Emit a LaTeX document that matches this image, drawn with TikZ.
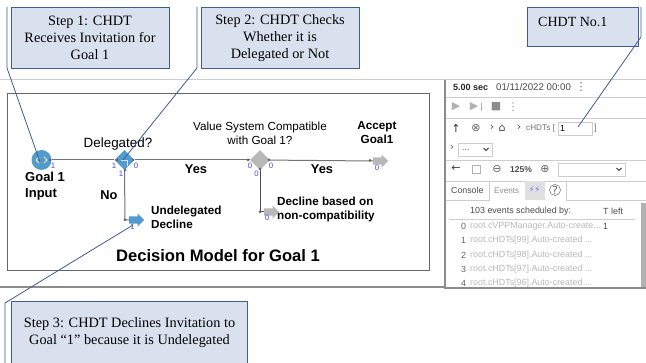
\documentclass[tikz,border=0pt]{standalone}
\usepackage{fontspec}
\setmainfont{Liberation Sans}
\newfontfamily\serifnote{Liberation Serif}
\newfontfamily\iconfont{DejaVu Sans}
\usetikzlibrary{shapes, shapes.arrows, positioning}

\definecolor{notefill}{RGB}{218,225,238}
\definecolor{noteline}{RGB}{62,91,150}
\definecolor{startblue}{RGB}{82,156,205}
\definecolor{portblue}{RGB}{60,80,235}
\definecolor{panelline}{RGB}{205,205,205}
\newcommand{\rowdots}{.{}.{}.}

\begin{document}
\begin{tikzpicture}[x=1pt, y=-1pt, font=\fontsize{10}{12}\selectfont]
  \useasboundingbox (0,0) rectangle (646,363);

  % Set the node styles
  \tikzset{
    notebox/.style={draw=noteline, fill=notefill, line width=1pt, inner sep=0pt, align=center,
      font=\serifnote\fontsize{14.3}{16.8}\selectfont},
    noteline/.style={draw=noteline, line width=0.8pt},
    flowline/.style={draw=black!55, line width=1pt},
    block/.style={diamond, fill=black!28, minimum size=20pt, inner sep=0pt},
    sinkarrow/.style={single arrow, anchor=tail, fill=black!28, inner sep=3.5pt, minimum height=15pt,
      single arrow head extend=3pt},
    modeltext/.style={align=center, font=\fontsize{11.7}{14}\selectfont},
    boldtext/.style={align=left, font=\bfseries\fontsize{11.7}{14}\selectfont},
    yestext/.style={font=\bfseries\fontsize{12.8}{15}\selectfont},
    portnum/.style={text=portblue, font=\fontsize{7.8}{8}\selectfont, inner sep=0pt},
    portdot/.style={circle, fill=black!60, minimum size=3pt, inner sep=0pt},
    paneltext/.style={anchor=west, inner sep=0pt, text=black!70, font=\fontsize{8.9}{10}\selectfont},
    panelicon/.style={inner sep=0pt, text=black!60, font=\iconfont\fontsize{11}{12}\selectfont},
    panelbox/.style={draw=panelline, fill=white, line width=0.5pt},
  }

  % Window edges behind the model
  \draw[panelline, line width=1pt] (0,80) -- (646,80);
  \draw[black!45, line width=1.2pt] (0,287) -- (445,287);
  \draw[black!45, line width=1.2pt] (445,80) -- (445,288) -- (646,288);

  % Draw the model frame
  \draw[black!60, line width=0.9pt, fill=white] (7,93) rectangle (429,270);
  \node[font=\bfseries\fontsize{16.6}{19}\selectfont] (title) at (218,256) {Decision Model for Goal 1};

  % Draw the decision model blocks
  \node[circle, fill=startblue, minimum size=20pt, inner sep=0pt] (goalinput) at (41.5,160) {};
  \node[block, fill=startblue] (delegated) at (124.5,160) {};
  \node[block] (compatible) at (260,160) {};
  \node[sinkarrow] (accept) at (373,161) {};
  \node[sinkarrow] (compatdecline) at (264,212) {};
  \node[sinkarrow, fill=startblue] (undelegated) at (129,220) {};
  \coordinate (declinecorner) at (125,220);
  \coordinate (compatcorner) at (260,212);

  % Connect the blocks
  \draw[flowline] (goalinput) -- (delegated);
  \draw[flowline] (delegated) -- (compatible);
  \draw[flowline] (compatible) -- (accept.tail);
  \draw[flowline] (delegated.south) -- (declinecorner) -- (undelegated.tail);
  \draw[flowline, black!70] (compatible.south) -- (compatcorner) -- (compatdecline.tail);

  % Port dots on the connector ends
  \foreach \i/\px/\py in {a/50/160,b/117/160,c/133/160,d/125/170,e/248/160,f/269/160,
    g/260/169,h/370/160.5,j/260/212,k/125/220}{
    \node[portdot] (dot\i) at (\px,\py) {};
  }

  % Marks inside the blue blocks
  \draw[white, line width=0.8pt] (36,160) -- (39,157) (36,160) -- (39,163);
  \draw[white, line width=0.8pt] (44,157) -- (47,160) -- (44,163);
  \draw[white!75!startblue, line width=0.8pt] (121,160) -- (127,160) -- (127,166);

  % Labels of the model
  \node[boldtext, font=\bfseries\fontsize{13}{15.6}\selectfont, anchor=west, inner sep=0pt] (goallabel) at (25,186) {Goal 1\\Input};
  \node[modeltext, font=\fontsize{13.4}{15}\selectfont] (delegatedlabel) at (118,144) {Delegated?};
  \node[modeltext] (compatiblelabel) at (260,133) {Value System Compatible\\with Goal 1?};
  \node[boldtext, align=center] (acceptlabel) at (377,133) {Accept\\Goal1};
  \node[boldtext, anchor=west, inner sep=0pt] (compatdeclinelabel) at (277,209) {Decline based on\\non-compatibility};
  \node[boldtext, anchor=west, inner sep=0pt] (undelegatedlabel) at (151,217) {Undelegated\\Decline};
  \node[yestext] (yesone) at (196,169) {Yes};
  \node[yestext] (yestwo) at (322,169) {Yes};
  \node[yestext] (nolabel) at (109,195) {No};

  % Port numbers
  \foreach \i/\px/\py/\element in {a/53/166/1,b/114/166/1,c/136/166/0,d/121/174/1,e/250/166/0,
    f/271/166/0,g/256.5/174/0,h/377/168/0,j/267/218/0,k/132.5/227/1}{
    \node[portnum] (port\i) at (\px,\py) {\element};
  }

  % Draw the panel
  \foreach \ly in {97,118,160,181}{
    \draw[panelline, line width=0.6pt] (446,\ly) -- (646,\ly);
  }
  \draw[panelline, line width=0.6pt] (446,200) -- (489,200) -- (489,181)
    (566,181) -- (566,200) -- (646,200);
  \draw[panelline, line width=0.5pt] (449,219) -- (635,219);
  \fill[black!12] (525,181) rectangle (545,200);
  \fill[black!30] (641,203) rectangle (646,287);
  \draw[panelbox] (558,122) rectangle (592,135);
  \draw[panelbox] (458,143) rectangle (492,156);
  \draw[panelbox] (558,163) rectangle (625,176);
  \foreach \cx/\cy in {486/149,619/169}{
    \draw[black!80, line width=0.9pt] (\cx-2.5,\cy-1) -- (\cx,\cy+1.5) -- (\cx+2.5,\cy-1);
  }

  % Panel texts
  \node[paneltext, text=black!85, font=\bfseries\fontsize{9}{10}\selectfont] (simtime) at (453,87) {5.00 sec};
  \node[paneltext, font=\fontsize{9.7}{11}\selectfont] (simdate) at (496,87) {01/11/2022 00:00};
  \node[paneltext, text=black!55, font=\fontsize{8.2}{10}\selectfont] (chdtspath) at (526,128.5) {cHDTs [};
  \node[paneltext, text=black] (chdtsindex) at (560,128.5) {1};
  \node[paneltext, text=black!55] (chdtsend) at (594,128.5) {]};
  \node[paneltext, text=black!60] (dots) at (462,150) {\rowdots};
  \node[paneltext, font=\bfseries\fontsize{8.5}{10}\selectfont] (zoomlevel) at (510,169.5) {125\%};
  \node[paneltext, font=\fontsize{8.8}{10}\selectfont] (consoletab) at (451,190) {Console};
  \node[paneltext, text=black!45, font=\fontsize{8.2}{10}\selectfont] (eventstab) at (494,190.5) {Events};
  \node[paneltext] (eventshead) at (470,211) {103 events scheduled by:};
  \node[paneltext] (tleft) at (603,211) {T left};
  \node[paneltext] (tleftval) at (603,226) {1};

  % Panel icons
  \foreach \i/\px/\py/\glyph/\tone in {a/581/87/⋮/60,b/456/107/▶/30,c/474/107/▶/30,d/496/107/■/45,
    e/513/107/⋮/40,f/456/128/↑/80,g/476/128/⊗/60,h/492/128/›/70,j/502/128/⌂/70,k/519/128/›/70,
    l/452/148/›/60,m/456/169/←/75,n/497/169/⊖/60,o/545/169/⊕/60,q/555/190/?/60}{
    \node[panelicon, text=black!\tone] (icon\i) at (\px,\py) {\glyph};
  }
  \node[panelicon, text=portblue!80, font=\iconfont\fontsize{8}{9}\selectfont] (iconbolts) at (534.5,190) {⚡⚡};
  \draw[black!30, line width=0.9pt] (481,103) -- (481,111);
  \draw[black!30, line width=0.5pt] (472,165) rectangle (480,173);
  \draw[black!60, line width=0.5pt] (555,190) circle (5.5);

  % Panel event rows
  \foreach \i/\ry/\element in {0/226/root.cVPPManager.Auto-create\rowdots,1/240/root.cHDTs[99].Auto-created \rowdots,
    2/255/root.cHDTs[98].Auto-created \rowdots,3/269/root.cHDTs[97].Auto-created \rowdots,4/283/root.cHDTs[96].Auto-created \rowdots}{
    \node[paneltext, text=black!60] (rownum\i) at (461,\ry) {\i};
    \node[paneltext, text=black!28] (rowtext\i) at (470,\ry) {\element};
  }

  % Draw the notes and their leaders
  \node[notebox, minimum width=158pt, minimum height=61pt] (stepone) at (90,38)
    {Step 1: CHDT\\Receives Invitation for\\Goal 1};
  \node[notebox, minimum width=158pt, minimum height=61pt] (steptwo) at (280,38)
    {Step 2: CHDT Checks\\Whether it is\\Delegated or Not};
  \node[notebox, minimum width=111pt, minimum height=39pt, anchor=north west] (chdtno) at (527,7) {};
  \node[anchor=west, inner sep=0pt, font=\serifnote\fontsize{14}{16}\selectfont] (chdtnotext) at (538,22) {CHDT No.1};
  \node[notebox, minimum width=236pt, minimum height=62pt, anchor=north west] (stepthree) at (11,301)
    {Step 3: CHDT Declines Invitation to\\Goal “1” because it is Undelegated};

  \coordinate (onetop) at (7,7);
  \coordinate (onebend) at (7,68);
  \coordinate (oneend) at (40,162);
  \coordinate (twotop) at (197,7);
  \coordinate (twobend) at (197,68);
  \coordinate (twoend) at (123,160);
  \coordinate (notop) at (641,7);
  \coordinate (nobend) at (641,37);
  \coordinate (noend) at (578,127);
  \coordinate (threetop) at (5,363);
  \coordinate (threebend) at (5,303);
  \coordinate (threeend) at (133,225);
  \draw[noteline] (onetop) -- (onebend) -- (oneend);
  \draw[noteline] (twotop) -- (twobend) -- (twoend);
  \draw[noteline] (notop) -- (nobend) -- (noend);
  \draw[noteline] (threetop) -- (threebend) -- (threeend);
\end{tikzpicture}
\end{document}
